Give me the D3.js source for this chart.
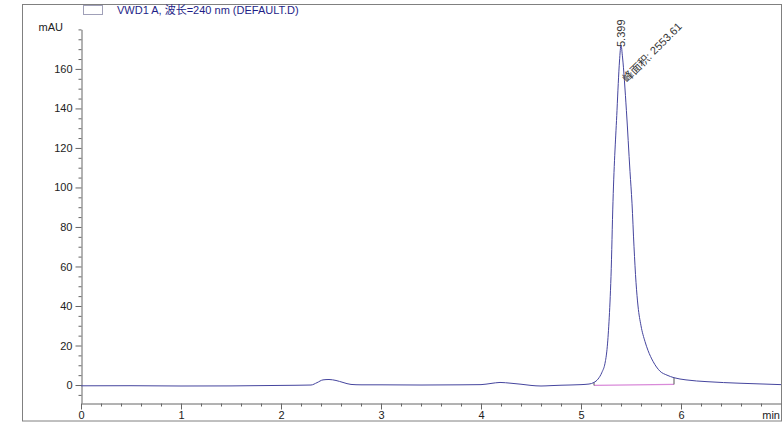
<!DOCTYPE html>
<html>
<head>
<meta charset="utf-8">
<script src="https://cdn.jsdelivr.net/npm/d3@7"></script>
<style>
  html, body { margin: 0; padding: 0; background: #fff; }
  svg { display: block; font-family: Arial, "Liberation Sans", "Noto Sans CJK SC", sans-serif; }
  .axis text { font-size: 11px; fill: #222; }
  .axis path, .axis line { stroke: #666; }
</style>
</head>
<body>
<svg id="chart" width="783" height="429"></svg>
<script>
  // chromatogram trace (min, mAU)
  var timeMin = [0.0, 0.5, 1.0, 1.5, 2.0, 2.3, 2.36, 2.42, 2.48, 2.55, 2.62, 2.7, 2.8, 3.0, 3.4, 3.8, 4.0, 4.1, 4.19, 4.3, 4.4, 4.5, 4.6, 4.7, 4.8, 5.0, 5.08, 5.13, 5.17, 5.21, 5.24, 5.26, 5.28, 5.30, 5.32, 5.36, 5.385, 5.40, 5.415, 5.454, 5.49, 5.51, 5.53, 5.55, 5.57, 5.60, 5.64, 5.67, 5.72, 5.79, 5.86, 5.93, 6.05, 6.26, 6.59, 7.0];
  var signalMau = [-0.4, -0.35, -0.5, -0.45, -0.2, 0.0, 1.2, 2.6, 2.8, 2.3, 1.3, 0.3, 0.1, 0.1, 0.0, 0.1, 0.2, 0.8, 1.3, 0.9, 0.4, -0.2, -0.5, -0.3, -0.1, 0.2, 0.5, 1.3, 3.0, 6.5, 11, 18, 32, 55, 93, 139, 164, 172, 166, 139, 108, 92, 70, 52, 40, 30, 22, 17.5, 12, 7, 5, 3.7, 2.6, 1.7, 0.9, 0.2];

  // integration baseline (start, end) and peak annotations
  var baseTime = [5.13, 5.93];
  var baseMau = [-0.2, 0.3];
  var peakTime = 5.399;
  var peakLabel = "5.399";
  var areaLabel = "峰面积: 2553.61";
  var title = "VWD1 A, 波长=240 nm (DEFAULT.D)";

  var xMajor = [0, 1, 2, 3, 4, 5, 6];
  var yMajor = [0, 20, 40, 60, 80, 100, 120, 140, 160];

  var svg = d3.select("#chart");
  var x = d3.scaleLinear().domain([0, 7]).range([81, 781]);
  var y = d3.scaleLinear().domain([-9.1, 180]).range([403, 29.4]);

  // outer frame
  svg.append("rect")
    .attr("x", 22.5).attr("y", 4.5)
    .attr("width", 759).attr("height", 416.5)
    .attr("fill", "none").attr("stroke", "#808080");

  // legend
  svg.append("rect")
    .attr("x", 83.5).attr("y", 5.5).attr("width", 19).attr("height", 9)
    .attr("fill", "#fff").attr("stroke", "#a0a0b8");
  svg.append("text")
    .attr("x", 117).attr("y", 14)
    .attr("font-size", 11).attr("fill", "#1e1e88")
    .text(title);

  // axes
  var xMinor = d3.range(0, 7, 0.2).filter(function (t) { return Math.abs(t - Math.round(t)) > 1e-6; });
  var yMinor = d3.range(-5, 181, 5).filter(function (v) { return v % 20 !== 0 || v === 180; });

  svg.append("g").attr("class", "axis")
    .attr("transform", "translate(0,403.5)")
    .call(d3.axisBottom(x).tickValues(xMinor).tickSize(3).tickSizeOuter(0).tickFormat(""));
  svg.append("g").attr("class", "axis")
    .attr("transform", "translate(0,403.5)")
    .call(d3.axisBottom(x).tickValues(xMajor).tickSize(6).tickSizeOuter(0).tickPadding(2).tickFormat(d3.format("d")))
    .select(".domain").remove();

  svg.append("g").attr("class", "axis")
    .attr("transform", "translate(81.5,0)")
    .call(d3.axisLeft(y).tickValues(yMinor).tickSize(3).tickSizeOuter(0).tickFormat(""));
  svg.append("g").attr("class", "axis")
    .attr("transform", "translate(81.5,0)")
    .call(d3.axisLeft(y).tickValues(yMajor).tickSize(6).tickSizeOuter(0).tickFormat(d3.format("d")))
    .select(".domain").remove();

  svg.append("text")
    .attr("x", 63).attr("y", 31)
    .attr("text-anchor", "end").attr("font-size", 11).attr("fill", "#222")
    .text("mAU");
  svg.append("text")
    .attr("x", 780).attr("y", 419)
    .attr("text-anchor", "end").attr("font-size", 11).attr("fill", "#222")
    .text("min");

  // trace
  var points = timeMin.map(function (t, i) { return [t, signalMau[i]]; });
  var line = d3.line()
    .x(function (d) { return x(d[0]); })
    .y(function (d) { return y(d[1]); })
    .curve(d3.curveMonotoneX);

  // integration baseline with end markers
  var traceAt = function (t) {
    var i = d3.bisectLeft(timeMin, t);
    if (i <= 0) return signalMau[0];
    var t0 = timeMin[i - 1], t1 = timeMin[i];
    return signalMau[i - 1] + (signalMau[i] - signalMau[i - 1]) * (t - t0) / (t1 - t0);
  };
  var baseColor = "#d98ad9";
  svg.append("line")
    .attr("x1", x(baseTime[0])).attr("y1", y(baseMau[0]))
    .attr("x2", x(baseTime[1])).attr("y2", y(baseMau[1]))
    .attr("stroke", baseColor).attr("stroke-width", 1.2);
  baseTime.forEach(function (t, i) {
    svg.append("line")
      .attr("x1", x(t)).attr("y1", y(baseMau[i]))
      .attr("x2", x(t)).attr("y2", y(traceAt(t)))
      .attr("stroke", "#555").attr("stroke-width", 1);
  });

  svg.append("path")
    .datum(points)
    .attr("d", line)
    .attr("fill", "none")
    .attr("stroke", "#45459e")
    .attr("stroke-width", 1);

  // peak annotations
  svg.append("text")
    .attr("transform", "translate(" + (x(peakTime) + 4) + ",47) rotate(-90)")
    .attr("font-size", 11).attr("fill", "#333")
    .text(peakLabel);
  svg.append("text")
    .attr("transform", "translate(" + (x(peakTime) + 6) + ",83) rotate(-45)")
    .attr("font-size", 11).attr("fill", "#333")
    .text(areaLabel);
</script>
</body>
</html>
